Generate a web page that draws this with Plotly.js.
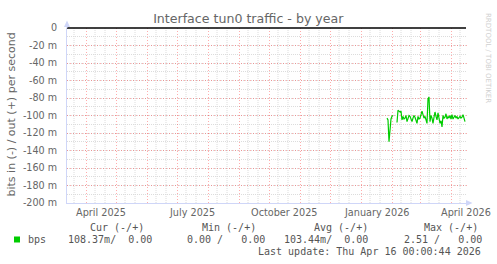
<!DOCTYPE html>
<html>
<head>
<meta charset="utf-8">
<script src="https://cdn.plot.ly/plotly-3.0.1.min.js"></script>
<style>html,body{margin:0;padding:0;background:#fff;}#chart{width:497px;height:264px;}</style>
</head>
<body>
<div id="chart"></div>
<script>
// ---- data ----
const chartTitle = 'Interface tun0 traffic - by year';
const yTitle = 'bits in (-) / out (+) per second';
const seriesStart = [2026, 0, 27]; // first daily sample (UTC y, m, d)
// "in" traffic, milli-bits per second (plotted negative), one value per day
const inValues = [
  -103, -105, -130, -110, -104, -101, -100, null, null, null,
  -108, -94, -95, -96, -95, -105, -101, -104, -103, -100,
  -107, -103, -100, -101, -104, -107, -103, -100, -102, -105,
  -109, -101, -104, -103, -99, -95, -99, -103, -101, -106,
  -109, -81, -79, -107, -100, -103, -109, -102, -96, -101,
  -105, -97, -104, -109, -106, -113, -100, -103, -102, -98,
  -104, -101, -103, -100, -104, -99, -104, -102, -100, -103,
  -101, -104, -102, -101, -103, -102, -99, -103, -107
];
const xRange = ['2025-03-13', '2026-04-17'];
const yTickVals = [0, -20, -40, -60, -80, -100, -120, -140, -160, -180, -200];
const yTickText = ['0', '-20 m', '-40 m', '-60 m', '-80 m', '-100 m', '-120 m', '-140 m', '-160 m', '-180 m', '-200 m'];
const xLabelDates = ['2025-04-16', '2025-07-16', '2025-10-16', '2026-01-16', '2026-04-16'];
const xLabelText = ['April 2025', 'July 2025', 'October 2025', 'January 2026', 'April 2026'];
const legendName = 'bps';
const legendHeaders = ['Cur (-/+)', 'Min (-/+)', 'Avg (-/+)', 'Max (-/+)'];
const legendValues = ['108.37m/  0.00', '0.00 /   0.00', '103.44m/  0.00', '2.51 /   0.00'];
const lastUpdate = 'Last update: Thu Apr 16 00:00:44 2026';
const watermark = 'RRDTOOL / TOBI OETIKER';
const lineColor = '#00cc00';

// ---- build ----
function iso(d){ return d.toISOString().slice(0,10); }
const dates = inValues.map((v,i)=> iso(new Date(Date.UTC(seriesStart[0], seriesStart[1], seriesStart[2]+i))));

// minor vertical grid (10th & 20th of each month)
const minorDates = [];
for (let y = 2025; y <= 2026; y++) for (let m = 0; m < 12; m++) {
  [10, 20].forEach(d => {
    const s = iso(new Date(Date.UTC(y, m, d)));
    if (s > xRange[0] && s < xRange[1]) minorDates.push(s);
  });
}

const W = 497, H = 264, L = 67, R = 30, T = 28, B = 61;
const PW = W - L - R, PH = H - T - B;
const px = x => (x - L) / PW;
const py = y => (H - B - y) / PH;
const nb = s => s.replace(/ /g, '\u00a0');

const axisCol = '#CFD6F8';
const minorCol = '#dcdcdc';
const majorCol = 'rgba(255,0,0,0.32)';
const mono = 'DejaVu Sans Mono';
const txtCol = '#555';

const annotations = [];
xLabelDates.forEach((d,i)=> annotations.push({
  x: d, xref: 'x', y: py(212.5), yref: 'paper', text: xLabelText[i], showarrow: false,
  xanchor: 'center', yanchor: 'middle', borderpad: 0, font: {family: 'DejaVu Sans', size: 9.7, color: '#666'}
}));
annotations.push({x: px(10.5), y: py(115), xref: 'paper', yref: 'paper', text: yTitle, textangle: -90,
  showarrow: false, xanchor: 'center', yanchor: 'middle', borderpad: 0,
  font: {family: 'DejaVu Sans', size: 11, color: '#666'}});
annotations.push({x: px(488), y: py(58), xref: 'paper', yref: 'paper', text: watermark, textangle: 90,
  showarrow: false, xanchor: 'center', yanchor: 'middle', borderpad: 0,
  font: {family: 'DejaVu Sans', size: 7, color: '#d0d0d0'}});
const headX = [89.3, 201, 312.7, 422.7];
const valX = [66.7, 186, 283.3, 403];
legendHeaders.forEach((h,i)=> annotations.push({x: px(headX[i]), y: py(227.7), xref:'paper', yref:'paper',
  text: nb(h), showarrow:false, xanchor:'left', yanchor:'middle', borderpad:0,
  font:{family:mono, size:10, color:txtCol}}));
legendValues.forEach((v,i)=> annotations.push({x: px(valX[i]), y: py(239.5), xref:'paper', yref:'paper',
  text: nb(v), showarrow:false, xanchor:'left', yanchor:'middle', borderpad:0,
  font:{family:mono, size:10, color:txtCol}}));
annotations.push({x: px(26.5), y: py(239.5), xref:'paper', yref:'paper', text: legendName, showarrow:false,
  xanchor:'left', yanchor:'middle', borderpad:0, font:{family:mono, size:10, color:txtCol}});
annotations.push({x: px(482.3), y: py(251.3), xref:'paper', yref:'paper', text: nb(lastUpdate), showarrow:false,
  xanchor:'right', yanchor:'middle', borderpad:0, font:{family:mono, size:10, color:txtCol}});

const shapes = [];
minorDates.forEach(d => shapes.push({type:'line', xref:'x', yref:'paper', x0:d, x1:d, y0:0, y1:1,
  line:{color:minorCol, width:1, dash:'1px,1px'}, layer:'below'}));
shapes.push(
  // zero line
  {type:'line', xref:'paper', yref:'paper', x0:0, x1:px(466), y0:1, y1:1, line:{color:'#000', width:1.5}, layer:'above'},
  // y axis extension + arrow
  {type:'line', xref:'paper', yref:'paper', x0:px(67), x1:px(67), y0:1, y1:py(24), line:{color:axisCol, width:1}},
  {type:'path', xref:'paper', yref:'paper', path:`M ${px(64)} ${py(27)} L ${px(67)} ${py(20.5)} L ${px(70)} ${py(27)} Z`, fillcolor:axisCol, line:{width:0}},
  // x axis extension + arrow
  {type:'line', xref:'paper', yref:'paper', x0:1, x1:px(469), y0:0, y1:0, line:{color:axisCol, width:1}},
  {type:'path', xref:'paper', yref:'paper', path:`M ${px(466)} ${py(200)} L ${px(472.5)} ${py(203)} L ${px(466)} ${py(206)} Z`, fillcolor:axisCol, line:{width:0}},
  // legend swatch
  {type:'rect', xref:'paper', yref:'paper', x0:px(14), x1:px(20), y0:py(242.5), y1:py(236.5), fillcolor:lineColor, line:{width:0}}
);

const traces = [{
  type:'scatter', mode:'lines', x: dates, y: inValues, connectgaps:false,
  line:{color:lineColor, width:1.2}, hoverinfo:'skip'
}];

const layout = {
  width: W, height: H, margin: {l:L, r:R, t:T, b:B, pad:0},
  paper_bgcolor:'#fff', plot_bgcolor:'#fff', showlegend:false,
  font:{family:'DejaVu Sans', color:'#666'},
  title:{text: chartTitle, xref:'container', yref:'container', x: 248.3/W, y: 1 - 19/H,
    xanchor:'center', yanchor:'middle', font:{family:'DejaVu Sans', size:12.6, color:'#666'}},
  xaxis:{type:'date', range: xRange, showgrid:true, gridcolor:majorCol, griddash:'1px,2px', gridwidth:1,
    tickmode:'linear', tick0:'2025-04-01', dtick:'M1', showticklabels:false, ticks:'',
    showline:true, linecolor:axisCol, linewidth:1, zeroline:false, fixedrange:true},
  yaxis:{range:[-200,0], tickmode:'array', tickvals:yTickVals, ticktext:yTickText,
    showgrid:true, gridcolor:majorCol, griddash:'1px,2px', gridwidth:1,
    minor:{dtick:10, showgrid:true, gridcolor:minorCol, griddash:'1px,1px', gridwidth:1, ticks:''},
    showline:true, linecolor:axisCol, linewidth:1, zeroline:false, ticks:'', ticklabelstandoff:7,
    tickfont:{family:'DejaVu Sans', size:9.6, color:'#666'}, fixedrange:true},
  annotations: annotations,
  shapes: shapes
};

Plotly.newPlot('chart', traces, layout, {staticPlot:true, displayModeBar:false});
</script>
</body>
</html>
